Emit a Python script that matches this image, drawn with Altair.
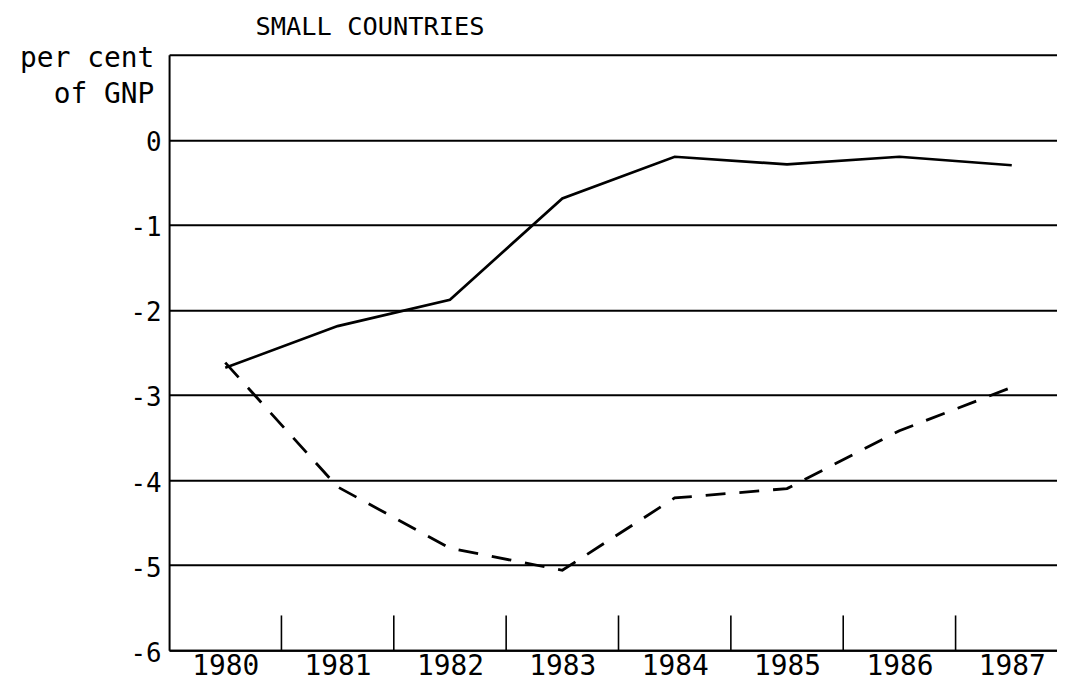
import altair as alt
import pandas as pd

# ---- data ----
years = [1980, 1981, 1982, 1983, 1984, 1985, 1986, 1987]
solid_values = [-2.68, -2.19, -1.88, -0.69, -0.20, -0.29, -0.20, -0.30]
dashed_values = [-2.62, -4.08, -4.80, -5.06, -4.21, -4.10, -3.42, -2.91]
y_tick_values = [-6, -5, -4, -3, -2, -1, 0, 1]
chart_title = "SMALL COUNTRIES"
y_title_lines = ["per cent", "of GNP"]

FONT = "DejaVu Sans Mono"
PX_PER_YEAR = 113
W, H = 893, 599

x_scale = alt.Scale(domain=[1979.5, 1979.5 + W / PX_PER_YEAR], nice=False, zero=False)
y_scale = alt.Scale(domain=[-6, 1], nice=False, zero=False)

x_axis = alt.Axis(
    values=years, format="d", title=None, grid=False, tickSize=0,
    labelFlush=False, labelOverlap=False, labelBound=False,
    labelPadding=2, labelBaseline="top", labelFontSize=28,
    domainColor="black", domainWidth=2,
)
y_axis = alt.Axis(
    values=y_tick_values, title=None, grid=True, gridColor="black",
    gridWidth=2, gridOpacity=1, tickSize=0, labelPadding=8,
    labelOffset=3, labelFontSize=26,
    labelExpr="datum.value > 0 ? '' : toString(datum.value)",
    domainColor="black", domainWidth=2,
)


def X(field):
    return alt.X(field, scale=x_scale, axis=x_axis)


def Y(field):
    return alt.Y(field, scale=y_scale, axis=y_axis)


df = pd.DataFrame({"year": years, "solid": solid_values, "dashed": dashed_values})
sep_df = pd.DataFrame({"sep": [y + 0.5 for y in years[:-1]]})

separators = alt.Chart(sep_df).mark_rule(color="black", strokeWidth=1.6).encode(
    x=X("sep:Q"), y=alt.value(564), y2=alt.value(599)
)

solid_line = alt.Chart(df).mark_line(color="black", strokeWidth=2.7).encode(
    x=X("year:Q"), y=Y("solid:Q")
)
dashed_line = alt.Chart(df).mark_line(
    color="black", strokeWidth=2.8, strokeDash=[20, 14]
).encode(x=X("year:Q"), y=Y("dashed:Q"))

title_mark = alt.Chart(pd.DataFrame({"t": [chart_title]})).mark_text(
    font=FONT, fontSize=25.5, align="left", baseline="alphabetic", color="black"
).encode(x=alt.value(87), y=alt.value(-20), text="t:N")

ytitle1 = alt.Chart(pd.DataFrame({"t": [y_title_lines[0]]})).mark_text(
    font=FONT, fontSize=28, align="right", baseline="alphabetic", color="black"
).encode(x=alt.value(-15), y=alt.value(12), text="t:N")
ytitle2 = alt.Chart(pd.DataFrame({"t": [y_title_lines[1]]})).mark_text(
    font=FONT, fontSize=28, align="right", baseline="alphabetic", color="black"
).encode(x=alt.value(-15), y=alt.value(49), text="t:N")

chart = alt.layer(
    separators, solid_line, dashed_line, title_mark, ytitle1, ytitle2
).properties(
    width=W, height=H,
    autosize=alt.AutoSizeParams(type="none"),
    padding={"left": 162, "top": 45, "right": 0, "bottom": 30},
    background="white",
).configure_view(stroke=None).configure_axis(
    labelFont=FONT, labelColor="black"
)

chart.save("out.html", embed_options={"renderer": "svg", "actions": False})
